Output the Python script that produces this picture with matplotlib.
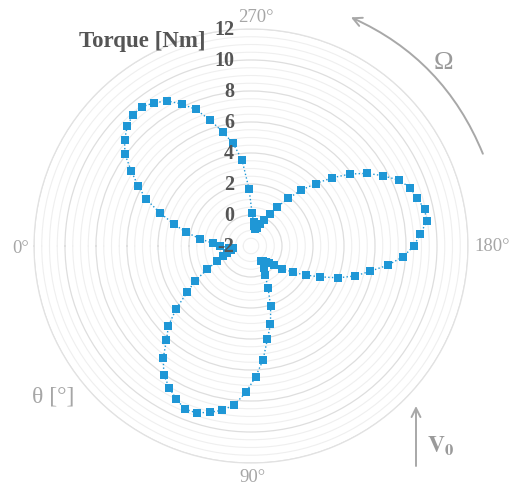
import numpy as np
import matplotlib
matplotlib.use('Agg')
import matplotlib.pyplot as plt
from matplotlib.ticker import MultipleLocator
from matplotlib.transforms import offset_copy

plt.rcParams['mathtext.fontset'] = 'stix'

# ---- data ----
theta_deg = np.arange(0, 360, 4)
torque = [
    0.0, -0.55, -0.85, -0.65, -0.4, -0.1, 0.4, 1.2, 2.25, 3.1,
    4.3, 5.4, 6.15, 7.2, 8.05, 8.55, 9.0, 9.35, 9.33, 9.05,
    8.77, 8.31, 7.45, 6.45, 5.4, 4.1, 3.2, 2.1, 0.95, 0.1,
    -0.35, -0.85, -0.75, -0.6, -0.4, -0.05, 0.5, 1.2, 2.0, 2.9,
    4.0, 5.0, 5.85, 6.9, 7.85, 8.5, 8.95, 9.45, 9.45, 9.15,
    8.95, 8.45, 7.65, 6.85, 5.9, 4.85, 3.8, 2.85, 1.9, 1.05,
    0.4, -0.1, -0.5, -0.8, -0.85, -0.7, -0.45, 0.1, 1.7, 3.6,
    4.75, 5.6, 6.55, 7.5, 8.2, 8.8, 9.15, 9.4, 9.4, 9.1,
    8.65, 8.05, 7.1, 6.25, 5.4, 4.25, 3.2, 2.3, 1.3, 0.45,
]
r_ticks = [-2, 0, 2, 4, 6, 8, 10, 12]
angle_ticks = [0, 90, 180, 270]
angle_labels = ['0°', '90°', '180°', '270°']

blue = '#1f97d6'
serif = 'Liberation Serif'

fig = plt.figure(figsize=(5.10, 4.89), dpi=100)
ax = fig.add_axes([34/510, 25/489, 434/510, 434/489], projection='polar')
ax.set_theta_zero_location('W')
ax.set_theta_direction(1)
ax.set_ylim(-2, 12)
ax.set_yticks(r_ticks)
ax.set_yticklabels([])
ax.yaxis.set_minor_locator(MultipleLocator(0.5))
ax.set_xticks(np.deg2rad(angle_ticks))
ax.set_xticklabels([])
ax.xaxis.grid(False)
ax.yaxis.grid(True, which='major', color='#dedede', lw=0.9)
ax.yaxis.grid(True, which='minor', color='#efefef', lw=0.8)
ax.tick_params(axis='both', which='both', length=0)
ax.spines['polar'].set_color('#e2e2e2')
ax.spines['polar'].set_linewidth(0.9)

th = np.deg2rad(np.append(theta_deg, theta_deg[0]))
rr = np.append(torque, torque[0])
ax.plot(th, rr, ls=':', lw=1.0, color=blue, marker='s', ms=5.4, mew=0,
        mfc=blue, zorder=3)

# radial labels
for v in r_ticks:
    ax.text(np.deg2rad(270), v, str(v),
            transform=offset_copy(ax.transData, fig=fig, x=-17, y=0, units='dots'),
            ha='right', va='center', fontsize=14.5, fontweight='bold',
            family=serif, color='#555555', zorder=5)

# angular labels
offs = {0: (-5, -2, 'right', 'center'), 90: (1, -14, 'center', 'center'),
        180: (6, 1, 'left', 'center'), 270: (5, 13, 'center', 'center')}
for a, lab in zip(angle_ticks, angle_labels):
    dx, dy, ha, va = offs[a]
    ax.text(np.deg2rad(a), 12, lab,
            transform=offset_copy(ax.transData, fig=fig, x=dx, y=dy, units='dots'),
            ha=ha, va=va, fontsize=13.5, family=serif, color='#a6a6a6', clip_on=False)

# Omega arrow
ax.annotate('', xy=(np.deg2rad(246.4), 14.1), xytext=(np.deg2rad(201.7), 14.1),
            xycoords='data', annotation_clip=False,
            arrowprops=dict(arrowstyle='->', color='#a8a8a8', lw=1.4,
                            connectionstyle='arc3,rad=0.2', shrinkA=0, shrinkB=0,
                            mutation_scale=16))
fig.text(443/510, 1-63/489, 'Ω', ha='center', va='center', fontsize=19,
         family=serif, color='#9a9a9a')

# V0 arrow
ax.annotate('', xy=(416, 489-407), xytext=(416, 489-467), xycoords='figure pixels',
            textcoords='figure pixels', annotation_clip=False,
            arrowprops=dict(arrowstyle='->', color='#a8a8a8', lw=1.4,
                            shrinkA=0, shrinkB=0, mutation_scale=16))
fig.text(427/510, 1-446/489, r'$\mathbf{V_0}$', ha='left', va='center', fontsize=17,
         color='#9a9a9a')

fig.text(142/510, 1-42/489, 'Torque [Nm]', ha='center', va='center', fontsize=16.5,
         fontweight='bold', family=serif, color='#555555')
fig.text(53/510, 1-397/489, 'θ [°]', ha='center', va='center', fontsize=17,
         family=serif, color='#a6a6a6')

fig.savefig('out.png', dpi=100)
